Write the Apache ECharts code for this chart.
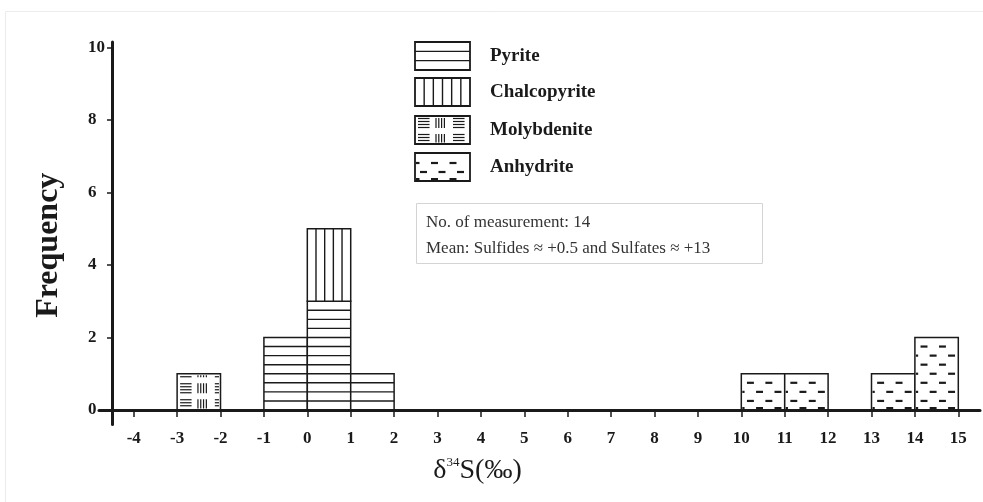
<!DOCTYPE html>
<html><head><meta charset="utf-8">
<script src="https://cdn.jsdelivr.net/npm/echarts@6/dist/echarts.min.js"></script>
<style>html,body{margin:0;padding:0;background:#fff}#c{width:983px;height:502px}</style>
</head><body><div id="c"></div><script>
// ---- data ----
const xTicks = [-4,-3,-2,-1,0,1,2,3,4,5,6,7,8,9,10,11,12,13,14,15];
const yTicks = [0,2,4,6,8,10];
const pyriteBins = [-1,0,1];
const pyriteCounts = [2,3,1];
const chalcoBins = [0];
const chalcoCounts = [2];
const molyBins = [-3];
const molyCounts = [1];
const anhyBins = [10,11,13,14];
const anhyCounts = [1,1,1,2];
const legendNames = ['Pyrite','Chalcopyrite','Molybdenite','Anhydrite'];
const noteLines = ['No. of measurement: 14','Mean: Sulfides \u2248 +0.5 and Sulfates \u2248 +13'];
const yName = 'Frequency';

const INK = '#1a1a1a';
const SERIF = '"Liberation Serif","Times New Roman",serif';

function ln(x1,y1,x2,y2,lw,col){return {type:'line', silent:true, shape:{x1:x1,y1:y1,x2:x2,y2:y2}, style:{stroke:col||INK, lineWidth:lw||1.2}};}

function pyritePattern(x,y,w,h,step){
  const out=[];
  for(let yy=y+h-step; yy>y+1.5; yy-=step) out.push(ln(x,yy,x+w,yy,1.4));
  return out;
}
function chalcoPattern(x,y,w,h,step){
  const out=[];
  for(let xx=x+step; xx<x+w-1.5; xx+=step) out.push(ln(xx,y,xx,y+h,1.4));
  return out;
}
function anhyPattern(x,y,w,h,rowStep,period,dash,offA,offB){
  const out=[];
  for(let k=0;;k++){
    const yy=y+h-k*rowStep-(k===0?1.5:0); if(yy<y+4) break;
    const off = k%2===0?offB:offA;
    for(let s=x+off-period; s<x+w; s+=period){
      const a=Math.max(s,x+1), b=Math.min(s+dash,x+w-1);
      if(b-a>1.5) out.push(ln(a,yy,b,yy,k===0?3:2.2));
    }
  }
  return out;
}
function molyPattern(x,y,w,h,phase,T){
  const out=[]; const R=16;
  for(let cy=y+phase-R; cy<y+h+6; cy+=R){
    for(let tx=x; tx<x+w; tx+=T){
      for(let i=0;i<4;i++){
        const yy=cy-4.5+i*3;
        if(yy>y+1.5 && yy<y+h-1.5){
          const a=tx+3, b=Math.min(tx+3+T*0.33,x+w-1.5);
          if(b-a>1) out.push(ln(a,yy,b,yy,1.2));
        }
      }
      for(let i=0;i<4;i++){
        const xx=tx+T*0.6+i*2.8;
        if(xx<x+w-1.5){
          const a=Math.max(cy-5,y+1.5), b=Math.min(cy+5,y+h-1.5);
          if(b-a>1) out.push(ln(xx,a,xx,b,1.2));
        }
      }
    }
  }
  return out;
}

function makeSeries(name, bins, counts, bases, kind){
  return {
    type:'custom', name:name, z:2, silent:true,
    data: bins.map((b,i)=>[b, counts[i], bases[i]]),
    renderItem: function(params, api){
      const x0=api.value(0), v=api.value(1), b=api.value(2);
      const tl=api.coord([x0, b+v]), br=api.coord([x0+1, b]);
      const x=tl[0], y=tl[1], w=br[0]-tl[0], h=br[1]-tl[1];
      const u=api.size([1,1]); const ux=u[0], uy=u[1];
      let pat=[];
      if(kind==='pyrite') pat=pyritePattern(x,y,w,h,uy/4);
      else if(kind==='chalco') pat=chalcoPattern(x,y,w,h,w/5);
      else if(kind==='moly') pat=molyPattern(x,y,w,h,h*0.4,ux*0.8);
      else if(kind==='anhy') pat=anhyPattern(x,y,w,h,uy/4,ux*0.425,ux*0.16,ux*0.13,ux*0.34);
      return {type:'group', children:[{type:'rect', shape:{x:x,y:y,width:w,height:h}, style:{fill:'#fff', stroke:INK, lineWidth:1.5}}].concat(pat)};
    }
  };
}

const chalcoBases = chalcoBins.map(b => { const i=pyriteBins.indexOf(b); return i>=0?pyriteCounts[i]:0; });

// legend (graphic)
const LX=415, LW=55, LH=28;
const legendTops=[42,78,116,153];
const legendEls=[];
// faint frame (top and left only)
legendEls.push(ln(5.5,11.5,983,11.5,1,'#ececec'));
legendEls.push(ln(5.5,11.5,5.5,502,1,'#ececec'));
legendNames.forEach((nm,i)=>{
  const y=legendTops[i];
  let pat=[];
  if(i===0) pat=pyritePattern(LX,y,LW,LH,LH/3);
  else if(i===1) pat=chalcoPattern(LX,y,LW,LH,LW/6);
  else if(i===2) pat=molyPattern(LX,y,LW,LH,7,35);
  else pat=anhyPattern(LX,y,LW,LH,9,18.5,7,5,16);
  legendEls.push({type:'rect', shape:{x:LX,y:y,width:LW,height:LH}, style:{fill:'#fff', stroke:INK, lineWidth:1.8}});
  pat.forEach(p=>legendEls.push(p));
  legendEls.push({type:'text', x:490, y:y+LH/2, style:{text:nm, font:'bold 19px '+SERIF, fill:INK, verticalAlign:'middle', align:'left'}});
});
// note box
legendEls.push({type:'rect', shape:{x:416.5,y:203.5,width:346,height:60}, style:{fill:'#fff', stroke:'#d4d4d4', lineWidth:1}});
noteLines.forEach((t,i)=>{
  legendEls.push({type:'text', x:426, y:223+i*26, style:{text:t, font:'17px '+SERIF, fill:'#333', verticalAlign:'middle', align:'left'}});
});

const chart = echarts.init(document.getElementById('c'), null, {renderer:'canvas'});
chart.setOption({
  animation:false,
  backgroundColor:'#fff',
  grid:{left:99, right:3, top:42, bottom:77.5, outerBoundsMode:'none', containLabel:false},
  xAxis:{
    type:'value', min:-4.8, max:15.5, z:5,
    axisLine:{onZero:true, lineStyle:{color:INK, width:3}},
    axisTick:{show:true, customValues:xTicks, length:7, lineStyle:{color:INK, width:1.5}},
    axisLabel:{customValues:xTicks, margin:6, color:INK, fontFamily:SERIF, fontWeight:'bold', fontSize:17},
    splitLine:{show:false},
    name:'{a|\u03b4}{s|34}{a|S(\u2030)}', nameLocation:'middle', nameGap:30,
    nameTextStyle:{padding:[0,124,0,0], rich:{
      a:{fontFamily:SERIF, fontSize:28, color:INK, lineHeight:32},
      s:{fontFamily:SERIF, fontSize:13, color:INK, verticalAlign:'top', lineHeight:32, padding:[2,0,0,0]}
    }}
  },
  yAxis:{
    type:'value', min:-0.4, max:10.15, position:'left', offset:-13, z:5,
    axisLine:{show:true, onZero:false, lineStyle:{color:INK, width:3}},
    axisTick:{show:true, customValues:yTicks, length:5, lineStyle:{color:INK, width:1.5}},
    axisLabel:{customValues:yTicks, margin:24, align:'left', color:INK, fontFamily:SERIF, fontWeight:'bold', fontSize:17},
    splitLine:{show:false},
    name:yName, nameLocation:'middle', nameGap:47,
    nameTextStyle:{fontFamily:SERIF, fontWeight:'bold', fontSize:32, color:INK, padding:[0,24,0,0]}
  },
  graphic:{elements:legendEls},
  series:[
    makeSeries('Pyrite', pyriteBins, pyriteCounts, pyriteBins.map(()=>0), 'pyrite'),
    makeSeries('Chalcopyrite', chalcoBins, chalcoCounts, chalcoBases, 'chalco'),
    makeSeries('Molybdenite', molyBins, molyCounts, molyBins.map(()=>0), 'moly'),
    makeSeries('Anhydrite', anhyBins, anhyCounts, anhyBins.map(()=>0), 'anhy')
  ]
});
</script></body></html>
